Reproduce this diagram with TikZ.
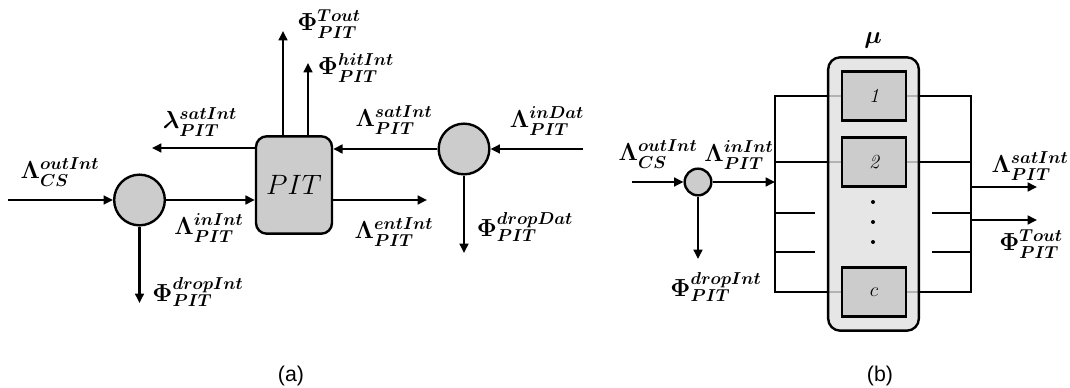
\RequirePackage{fix-cm}
\documentclass[tikz,border=0pt]{standalone}
\usepackage{fontspec}
\newfontfamily\capfont{Liberation Sans}
\usetikzlibrary{arrows.meta,backgrounds}
\begin{document}
\begin{tikzpicture}[x=0.75pt,y=-0.75pt,
  ln/.style={line width=1.8pt},
  arr/.style={ln,-{Triangle[length=7pt,width=6.5pt]}},
  junc/.style={circle,draw,line width=1.8pt,fill=black!20,inner sep=0pt,minimum size=38pt},
  smalljunc/.style={circle,draw,line width=1.8pt,fill=black!20,inner sep=0pt,minimum size=20pt},
  pitbox/.style={draw,line width=1.8pt,fill=black!20,rounded corners=8pt,minimum width=57pt,minimum height=73pt,inner sep=0pt,font=\fontsize{21}{24}\selectfont},
  outerbox/.style={draw,line width=1.8pt,fill=black!12,fill opacity=0.8,draw opacity=1,rounded corners=9pt,minimum width=68pt,minimum height=205pt,inner sep=0pt},
  server/.style={draw,line width=1.8pt,fill=black!20,minimum width=48pt,minimum height=37pt,inner sep=0pt,font=\fontsize{15}{18}\selectfont\itshape},
  lab/.style={inner sep=0pt,font=\fontsize{18.5}{21}\selectfont\boldmath},
  figcap/.style={inner sep=0pt,font=\capfont\fontsize{16}{19}\selectfont},
  dot/.style={circle,fill=black,inner sep=0pt,minimum size=3pt}
]
\useasboundingbox (0,0) rectangle (1070,388);

% ---------- (a) ----------
\node[junc] (c1) at (139.5,200) {};
\node[pitbox] (pit) at (294,185) {$PIT$};
\node[junc] (c2) at (464,149) {};

\coordinate (inA) at (8,200);
\coordinate (dA) at (139.5,303);
\coordinate (lo) at (152,148);
\coordinate (ro) at (427,200);
\coordinate (ri) at (583,149);
\coordinate (dd) at (464,253);
\coordinate (u1) at (283,31);
\coordinate (u2) at (308,63);

\draw[arr] (inA) -- (c1);
\draw[arr] (c1.east) -- (c1.east -| pit.west);
\draw[arr] (c1) -- (dA);
\draw[arr] (pit.west |- lo) -- (lo);
\draw[arr] (pit.east |- ro) -- (ro);
\draw[arr] (ri) -- (c2);
\draw[arr] (c2) -- (c2 -| pit.east);
\draw[arr] (c2) -- (dd);
\draw[arr] (pit.north -| u1) -- (u1);
\draw[arr] (pit.north -| u2) -- (u2);

\node[lab] (l1) at (200,122) {$\lambda_{PIT}^{satInt}$};
\node[lab] (l2) at (60,172) {$\Lambda_{CS}^{outInt}$};
\node[lab] (l3) at (209,228) {$\Lambda_{PIT}^{inInt}$};
\node[lab] (l4) at (198,292) {$\Phi_{PIT}^{dropInt}$};
\node[lab] (l5) at (329,24) {$\Phi_{PIT}^{Tout}$};
\node[lab] (l6) at (356,68) {$\Phi_{PIT}^{hitInt}$};
\node[lab] (l7) at (394,120) {$\Lambda_{PIT}^{satInt}$};
\node[lab] (l8) at (547,121) {$\Lambda_{PIT}^{inDat}$};
\node[lab] (l9) at (394,232) {$\Lambda_{PIT}^{entInt}$};
\node[lab] (l10) at (525,227) {$\Phi_{PIT}^{dropDat}$};
\node[figcap] (capa) at (291,376) {(a)};

% ---------- (b) ----------
\node[smalljunc] (c3) at (698,182) {};
\node[outerbox] (outer) at (873.5,194) {};
\node[server] (b1) at (874,96) {1};
\node[server] (b2) at (874,162) {2};
\node[server] (bc) at (874,292) {$c$};
\node[dot] (d1) at (873,202) {};
\node[dot] (d2) at (873,222) {};
\node[dot] (d3) at (873,242) {};

\coordinate (inB) at (632,182);
\coordinate (dB) at (698,259);
\coordinate (bl1) at (775,96);
\coordinate (bl2) at (775,162);
\coordinate (bl3) at (775,213);
\coordinate (bl4) at (775,252);
\coordinate (bl5) at (775,292);
\coordinate (sl3) at (815,213);
\coordinate (sl4) at (815,252);
\coordinate (br1) at (971,96);
\coordinate (br2) at (971,162);
\coordinate (br3) at (971,213);
\coordinate (br4) at (971,252);
\coordinate (br5) at (971,292);
\coordinate (sr3) at (932,213);
\coordinate (sr4) at (932,252);
\coordinate (o1s) at (971,187);
\coordinate (o1e) at (1037,187);
\coordinate (o2s) at (971,220);
\coordinate (o2e) at (1037,220);

\begin{pgfonlayer}{background}
\draw[ln] (b1.west) -- (bl1) -- (bl5) -- (bc.west);
\draw[ln] (bl2) -- (b2.west);
\draw[ln] (bl3) -- (sl3);
\draw[ln] (bl4) -- (sl4);
\draw[ln] (b1.east) -- (br1) -- (br5) -- (bc.east);
\draw[ln] (b2.east) -- (br2);
\draw[ln] (sr3) -- (br3);
\draw[ln] (sr4) -- (br4);
\end{pgfonlayer}

\draw[arr] (inB) -- (c3);
\draw[arr] (c3) -- (c3 -| bl1);
\draw[arr] (c3) -- (dB);
\draw[arr] (o1s) -- (o1e);
\draw[arr] (o2s) -- (o2e);

\node[lab] (m1) at (658,154) {$\Lambda_{CS}^{outInt}$};
\node[lab] (m2) at (739,155) {$\Lambda_{PIT}^{inInt}$};
\node[lab] (m3) at (716,287) {$\Phi_{PIT}^{dropInt}$};
\node[lab] (m4) at (1030,166) {$\Lambda_{PIT}^{satInt}$};
\node[lab] (m5) at (1031,244) {$\Phi_{PIT}^{Tout}$};
\node[lab] (mu) at (873,40) {$\mu$};
\node[figcap] (capb) at (880,376) {(b)};
\end{tikzpicture}
\end{document}
